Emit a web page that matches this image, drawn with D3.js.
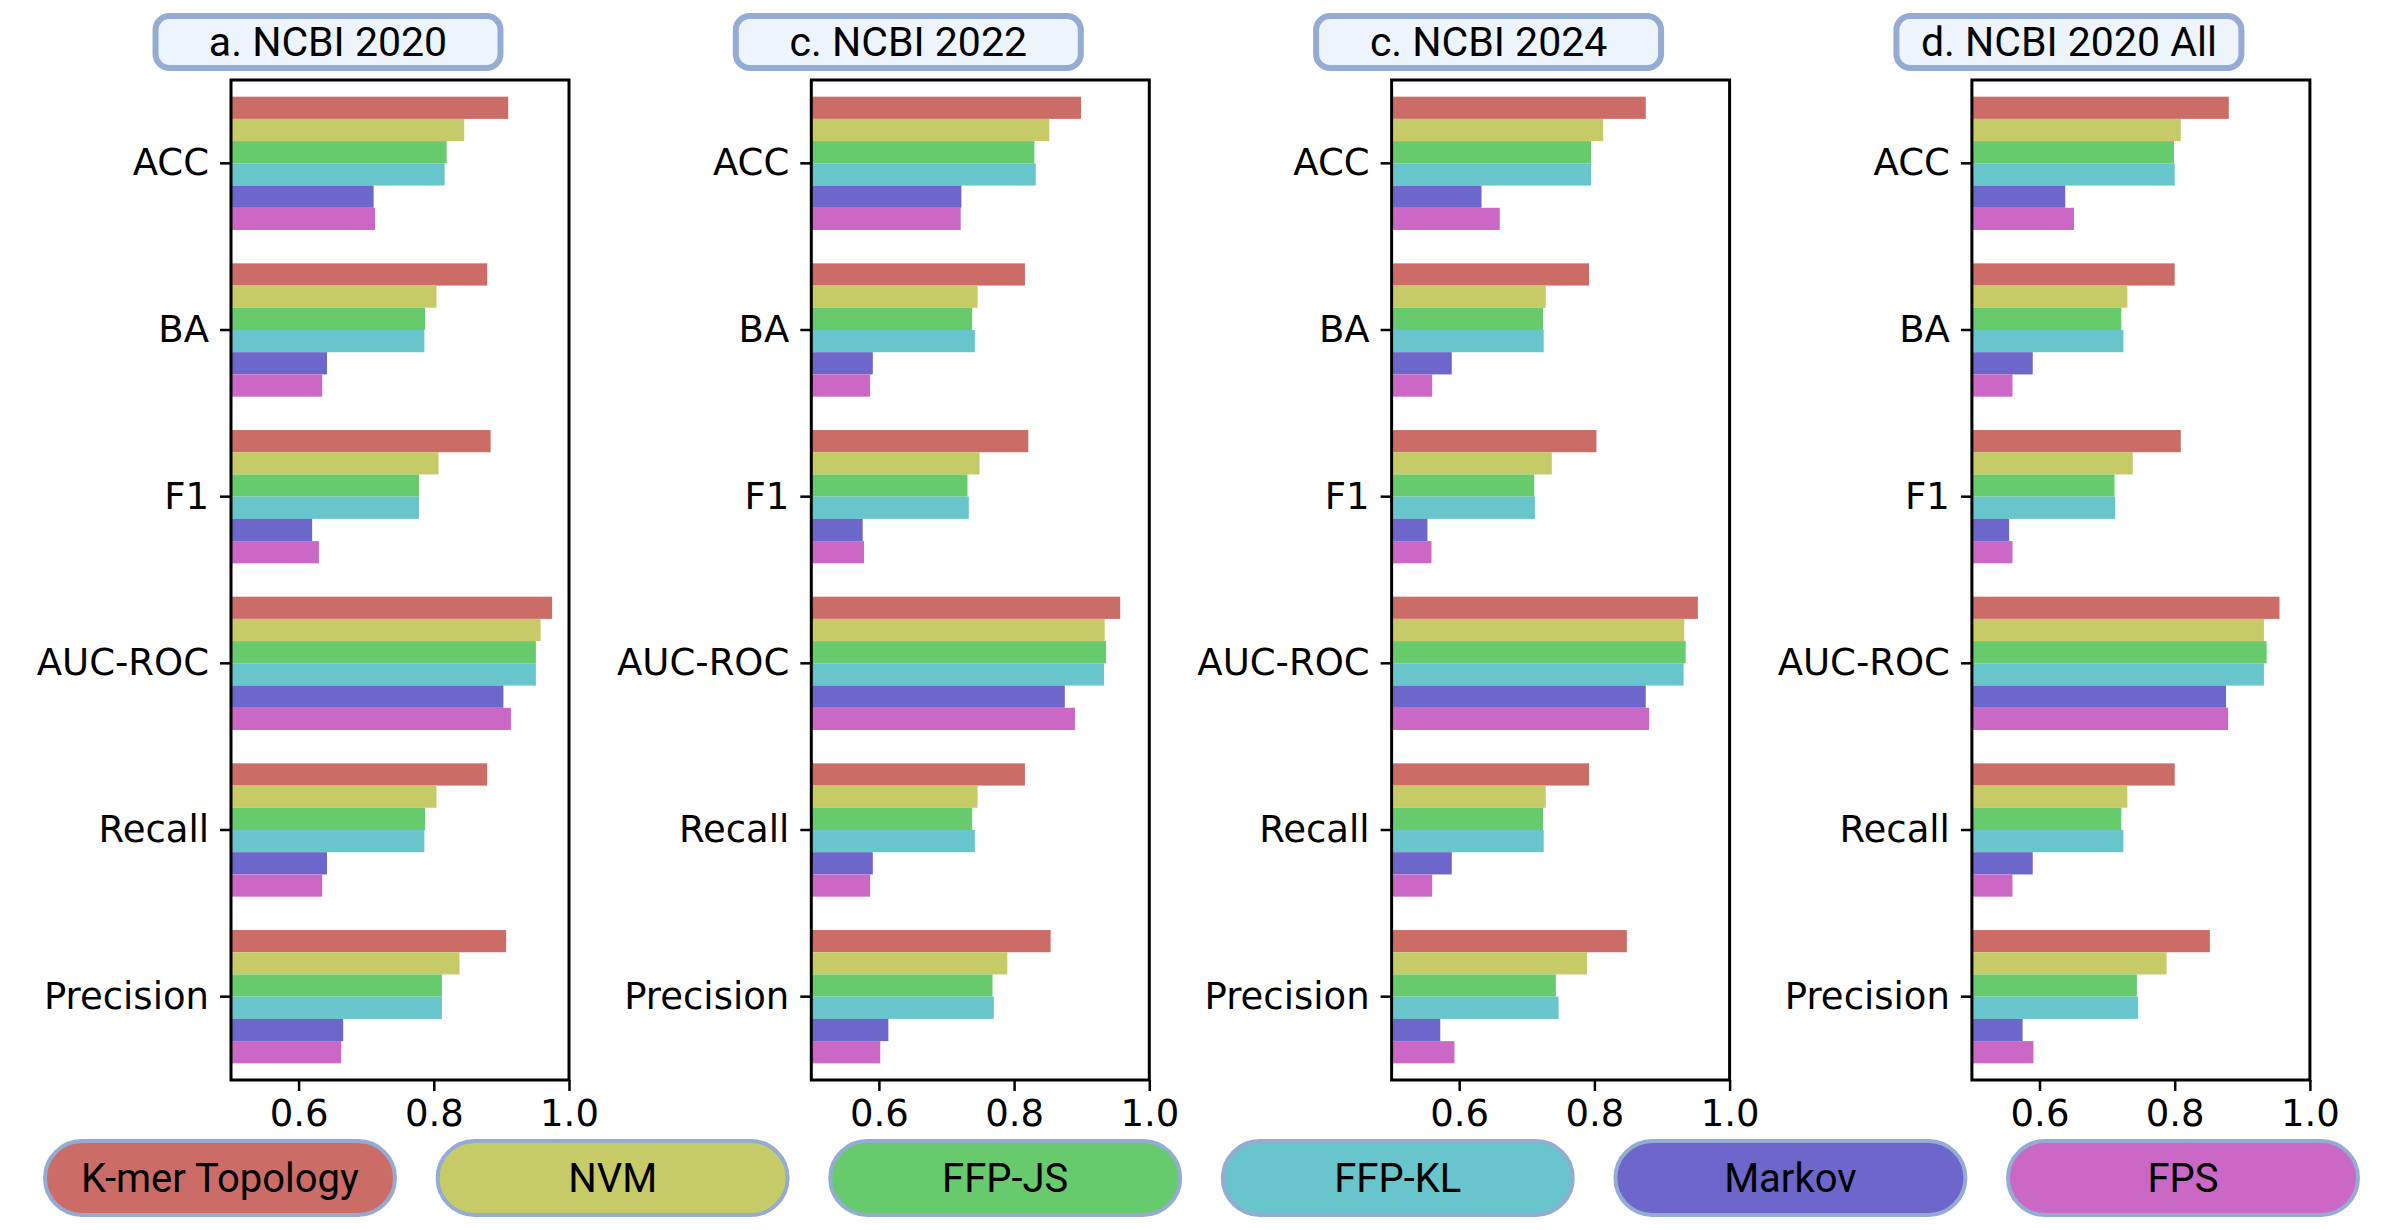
<!DOCTYPE html>
<html lang="en">
<head>
    <meta charset="UTF-8">
    <title>NCBI metrics</title>
    <script src="https://cdnjs.cloudflare.com/ajax/libs/d3/7.8.5/d3.min.js"></script>
    <style>
        body { margin: 0; background: #fff; }
        svg { display: block; }
        .tick text { font-family: 'DejaVu Sans', sans-serif; font-size: 37px; fill: #000; }
        .tick line { stroke: #000; stroke-width: 2.5; }
    </style>
</head>
<body>
<svg id="chart" width="2400" height="1230"></svg>
<script>
    // categories and series
    const metrics = ["ACC", "BA", "F1", "AUC-ROC", "Recall", "Precision"];
    const methods = ["K-mer Topology", "NVM", "FFP-JS", "FFP-KL", "Markov", "FPS"];
    const colors = ["#cb6c66", "#c6cb68", "#67cb6d", "#68c5cb", "#6d67cb", "#cb67c5"];
    const xTicks = [0.6, 0.8, 1.0];

    // one row per metric, one value per method (same order as methods)
    const ncbi2020 = [
        [0.910, 0.845, 0.819, 0.816, 0.711, 0.713],
        [0.879, 0.804, 0.787, 0.786, 0.642, 0.635],
        [0.884, 0.807, 0.778, 0.778, 0.620, 0.630],
        [0.975, 0.958, 0.951, 0.951, 0.903, 0.914],
        [0.879, 0.804, 0.787, 0.786, 0.642, 0.635],
        [0.907, 0.838, 0.812, 0.812, 0.666, 0.663]
    ];
    const ncbi2022 = [
        [0.899, 0.852, 0.830, 0.832, 0.722, 0.721],
        [0.816, 0.746, 0.738, 0.742, 0.591, 0.587],
        [0.821, 0.749, 0.731, 0.733, 0.576, 0.578],
        [0.957, 0.934, 0.936, 0.933, 0.875, 0.890],
        [0.816, 0.746, 0.738, 0.742, 0.591, 0.587],
        [0.854, 0.790, 0.768, 0.770, 0.614, 0.602]
    ];
    const ncbi2024 = [
        [0.876, 0.813, 0.795, 0.795, 0.633, 0.660],
        [0.792, 0.728, 0.724, 0.725, 0.589, 0.560],
        [0.803, 0.737, 0.711, 0.712, 0.553, 0.559],
        [0.953, 0.933, 0.935, 0.932, 0.876, 0.881],
        [0.792, 0.728, 0.724, 0.725, 0.589, 0.560],
        [0.848, 0.789, 0.743, 0.747, 0.572, 0.593]
    ];
    const ncbi2020All = [
        [0.880, 0.809, 0.799, 0.800, 0.638, 0.651],
        [0.800, 0.730, 0.721, 0.724, 0.590, 0.560],
        [0.809, 0.738, 0.711, 0.712, 0.555, 0.560],
        [0.955, 0.932, 0.936, 0.932, 0.876, 0.879],
        [0.800, 0.730, 0.721, 0.724, 0.590, 0.560],
        [0.852, 0.788, 0.744, 0.746, 0.575, 0.591]
    ];

    const panels = [
        { title: "a. NCBI 2020", values: ncbi2020 },
        { title: "c. NCBI 2022", values: ncbi2022 },
        { title: "c. NCBI 2024", values: ncbi2024 },
        { title: "d. NCBI 2020 All", values: ncbi2020All }
    ];

    const svg = d3.select("#chart");

    const plotTop = 80, plotBottom = 1080, plotW = 338;
    const firstLeft = 231, panelStep = 580.3;

    const y = d3.scaleBand().domain(metrics).range([plotTop, plotBottom]).padding(0);
    const yInner = d3.scaleBand().domain(methods)
        .range([y.bandwidth() * 0.1, y.bandwidth() * 0.9]).padding(0);

    panels.forEach((p, i) => {
        const left = firstLeft + i * panelStep;
        const x = d3.scaleLinear().domain([0.5, 1.0]).range([left, left + plotW]);
        const g = svg.append("g");

        // bars
        metrics.forEach((m, mi) => {
            g.selectAll(null)
                .data(p.values[mi])
                .enter()
                .append("rect")
                .attr("x", x(0.5))
                .attr("y", (d, k) => y(m) + yInner(methods[k]))
                .attr("width", d => x(d) - x(0.5))
                .attr("height", yInner.bandwidth())
                .attr("fill", (d, k) => colors[k]);
        });

        // axes
        const ax = g.append("g")
            .attr("transform", `translate(${left},0)`)
            .call(d3.axisLeft(y).tickSize(11).tickPadding(11));
        ax.select(".domain").remove();

        const bx = g.append("g")
            .attr("transform", `translate(0,${plotBottom})`)
            .call(d3.axisBottom(x).tickValues(xTicks).tickFormat(d3.format(".1f"))
                .tickSize(11).tickPadding(8));
        bx.select(".domain").remove();
        bx.selectAll("text").attr("dy", "0.74em");

        // frame
        g.append("rect")
            .attr("x", left).attr("y", plotTop)
            .attr("width", plotW).attr("height", plotBottom - plotTop)
            .attr("fill", "none").attr("stroke", "#000").attr("stroke-width", 3);

        // title box
        const cx = left + plotW / 2 - 72;
        const bw = 345, bh = 52;
        g.append("rect")
            .attr("x", cx - bw / 2).attr("y", 16)
            .attr("width", bw).attr("height", bh)
            .attr("rx", 14)
            .attr("fill", "#edf4fc").attr("stroke", "#94abd4").attr("stroke-width", 6);
        g.append("text")
            .attr("x", cx).attr("y", 16 + bh / 2)
            .attr("text-anchor", "middle").attr("dominant-baseline", "central")
            .style("font-family", "Roboto, sans-serif").style("font-size", "41px")
            .text(p.title);
    });

    // legend pills
    const pillW = 350, pillH = 74, pillY = 1141;
    const legend = svg.append("g");
    methods.forEach((m, k) => {
        const cx = 220 + k * 392.6;
        legend.append("rect")
            .attr("x", cx - pillW / 2).attr("y", pillY)
            .attr("width", pillW).attr("height", pillH)
            .attr("rx", pillH / 2)
            .attr("fill", colors[k]).attr("stroke", "#94abd4").attr("stroke-width", 4);
        legend.append("text")
            .attr("x", cx).attr("y", pillY + pillH / 2)
            .attr("text-anchor", "middle").attr("dominant-baseline", "central")
            .style("font-family", "Roboto, sans-serif").style("font-size", "40px")
            .text(m);
    });
</script>
</body>
</html>
